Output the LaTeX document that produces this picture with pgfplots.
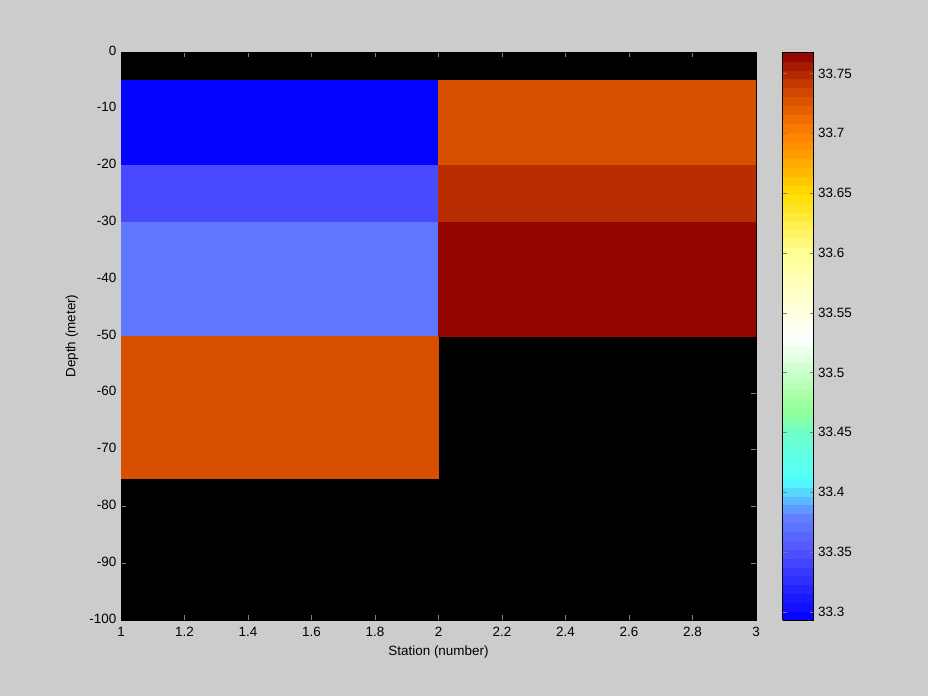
\documentclass[border=0pt]{standalone}
\usepackage{pgfplots}
\pgfplotsset{compat=1.18}
\usepackage{fontspec}
\setmainfont{Liberation Sans}
\definecolor{bg}{RGB}{204,204,204}
\begin{document}
\fontsize{13.5}{16}\selectfont
\begin{tikzpicture}
\fill[bg] (0,0) rectangle (928bp,696bp);
\begin{axis}[
  at={(121bp,76bp)}, anchor=south west,
  width=635bp, height=568bp, scale only axis,
  xmin=1, xmax=3, ymin=-100, ymax=0,
  xtick={1,1.2,1.4,1.6,1.8,2,2.2,2.4,2.6,2.8,3},
  ytick={-100,-90,-80,-70,-60,-50,-40,-30,-20,-10,0},
  tick align=inside, major tick length=5bp,
  typeset ticklabels with strut,
  xticklabel style={yshift=-1bp},
  axis background/.style={fill=black},
  /pgf/number format/assume math mode=true,
  xlabel={Station (number)}, ylabel={Depth (meter)},
  xlabel style={at={(axis description cs:0.5,-0.0558)}, anchor=center},
  ylabel style={at={(axis description cs:-0.0772,0.5)}, anchor=center},
  colormap={sal}{rgb255(0)=(0,0,255) rgb255(57)=(80,80,255) rgb255(87)=(100,130,255)
    rgb255(117)=(80,255,255) rgb255(157)=(110,255,200) rgb255(177)=(150,255,150)
    rgb255(237)=(255,255,255) rgb255(307)=(255,255,150) rgb255(357)=(255,220,0)
    rgb255(387)=(255,160,0) rgb255(407)=(255,128,0) rgb255(437)=(215,80,0)
    rgb255(457)=(180,40,0) rgb255(475)=(140,0,0)},
  point meta min=33.293, point meta max=33.768,
  colorbar sampled,
  colorbar style={samples=65, width=31bp, height=568bp, scale only axis,
    at={(parent axis.north east)}, anchor=north west, xshift=18bp,
    ytick={33.3,33.35,33.4,33.45,33.5,33.55,33.6,33.65,33.7,33.75},
    tick align=inside, major tick length=4bp, ytick pos=both, yticklabel pos=right,
    /pgf/number format/assume math mode=true,
    /pgf/number format/fixed, /pgf/number format/precision=2},
]
\addplot[patch, patch type=rectangle, shader=flat, point meta=explicit]
  table[meta=c] {
x y c
1 -20 33.295
2 -20 33.295
2 -5 33.295
1 -5 33.295
1 -30 33.345
2 -30 33.345
2 -20 33.345
1 -20 33.345
1 -50 33.373
2 -50 33.373
2 -30 33.373
1 -30 33.373
1 -75 33.73
2 -75 33.73
2 -50 33.73
1 -50 33.73
2 -20 33.73
3 -20 33.73
3 -5 33.73
2 -5 33.73
2 -30 33.747
3 -30 33.747
3 -20 33.747
2 -20 33.747
2 -50 33.765
3 -50 33.765
3 -30 33.765
2 -30 33.765
};
\end{axis}
\end{tikzpicture}
\end{document}
